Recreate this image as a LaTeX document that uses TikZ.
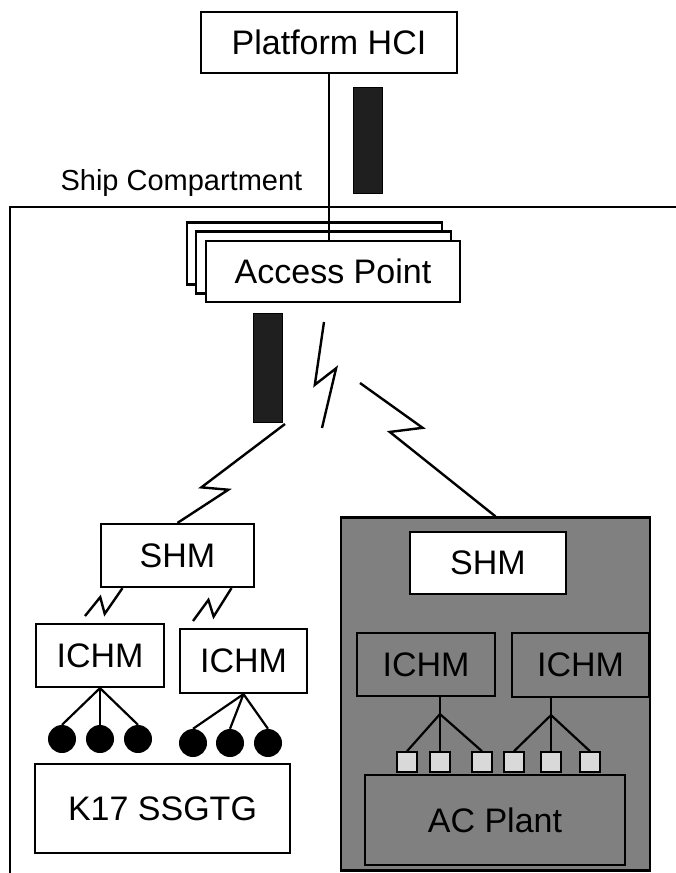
\documentclass[tikz,border=0pt]{standalone}
\usepackage{fontspec}
\setmainfont{Liberation Sans}
\usepackage{tikz}
\usetikzlibrary{calc}
\tikzset{
   box/.style={draw=black, line width=2.2pt, fill=white, inner sep=0pt,
      font=\fontsize{34}{40}\selectfont},
   openbox/.style={box, fill=none},
   bar/.style={draw=black, line width=1pt, fill=black!88, inner sep=0pt},
   dot/.style={circle, fill=black, inner sep=0pt, minimum size=28pt},
   pad/.style={draw=black, line width=1.6pt, fill=black!15, inner sep=0pt,
      minimum size=20pt},
   link/.style={line width=2.2pt},
   zap/.style n args={4}{line width=2.4pt, line join=miter, to path={
      -- ($(\tikztostart)!#1!(\tikztotarget)!#3!90:(\tikztotarget)$)
      -- ($(\tikztostart)!#2!(\tikztotarget)!#4!90:(\tikztotarget)$)
      -- (\tikztotarget)}},
    }
\begin{document}
\begin{tikzpicture}[x=1pt,y=-1pt]
            \useasboundingbox (0,0) rectangle (676,873);
            % compartment frame
            \draw[line width=1.8pt](10,873)--(10,207)--(676,207);
            \node[anchor=base west, font=\fontsize{29}{34}\selectfont] (ship) at (57,190) {Ship Compartment};
            % top
            \node[box, minimum width=256pt, minimum height=61pt] (hci) at (329,42.5) {Platform HCI};
            \node[bar, minimum width=29pt, minimum height=106pt] (barA) at (367.5,140) {};
            \node[box, minimum width=255pt, minimum height=62pt] (apC) at (314.5,253.5) {};
            \node[box, minimum width=255pt, minimum height=62pt] (apB) at (323.5,262.5) {};
            \node[box, minimum width=254pt, minimum height=61pt] (ap) at (333,271.5) {Access Point};
            \draw[link](hci.south)--(hci.south |- ap.north);
            \node[bar, minimum width=29pt, minimum height=109pt] (barB) at (267.5,367.5) {};
            % shaded unit
            \node[draw=black, line width=2.2pt, fill=black!50, inner sep=0pt,
               minimum width=309pt, minimum height=353pt] (acbox) at (495.5,694) {};
            \node[box, minimum width=156pt, minimum height=62pt] (shmB) at (488,563) {SHM};
            \node[openbox, minimum width=138pt, minimum height=63pt] (ichmC) at (426,664.5) {ICHM};
            \node[openbox, minimum width=137pt, minimum height=64pt] (ichmD) at (580.5,665) {ICHM};
            \node[openbox, minimum width=260pt, minimum height=90pt] (plant) at (495,820) {AC Plant};
            \foreach \n/\x in {1/407,2/440,3/482,4/514,5/551,6/590}
               \node[pad] (pad\n) at (\x,762) {};
            \draw[link](pad2.north |- ichmC.south)--(pad2.north);
            \coordinate (fanC) at ($(pad2.north |- ichmC.south)+(0,17)$);
            \draw[link](pad1.north)--(fanC)--(pad3.north);
            \draw[link](pad5.north |- ichmD.south)--(pad5.north);
            \coordinate (fanD) at ($(pad5.north |- ichmD.south)+(0,17)$);
            \draw[link](pad4.north)--(fanD)--(pad6.north);
            % left unit
            \node[box, minimum width=153pt, minimum height=63pt] (shmA) at (177.5,555.5) {SHM};
            \node[box, minimum width=128pt, minimum height=63pt] (ichmA) at (100,655.5) {ICHM};
            \node[box, minimum width=127pt, minimum height=64pt] (ichmB) at (243.5,661) {ICHM};
            \foreach \n/\x in {1/62,2/100,3/138}
               \node[dot] (dotA\n) at (\x,739) {};
            \foreach \n/\x in {1/193,2/230,3/268}
               \node[dot] (dotB\n) at (\x,743) {};
            \foreach \n in {1,2,3}{
               \draw[link](ichmA.south)--(dotA\n.north);
               \draw[link](ichmB.south)--(dotB\n.north);}
            \node[box, minimum width=255pt, minimum height=89pt] (k17) at (162.5,808.5) {K17 SSGTG};
            % radio links
            \coordinate (zapT) at (324,322);
            \coordinate (zapB) at (322,428);
            \draw[zap={0.594}{0.434}{-8pt}{13pt}](zapT)to(zapB);
            \coordinate (shmAtop) at (shmA.north);
            \coordinate (linkL) at (285,424);
            \draw[zap={0.41}{0.285}{-10pt}{10pt}](shmAtop)to(linkL);
            \coordinate (acTop) at (acbox.north);
            \coordinate (linkR) at (360,383);
            \draw[zap={0.708}{0.6}{14pt}{-12pt}](acTop)to(linkR);
            \coordinate (zsA) at ([xshift=-55pt]shmA.south);
            \coordinate (zeA) at (85,616);
            \draw[zap={0.633}{0.498}{10pt}{-6pt}](zsA)to(zeA);
            \coordinate (zsB) at ([xshift=54pt]shmA.south);
            \coordinate (zeB) at (193,621);
            \draw[zap={0.633}{0.498}{10pt}{-6pt}](zsB)to(zeB);
        \end{tikzpicture}
\end{document}
